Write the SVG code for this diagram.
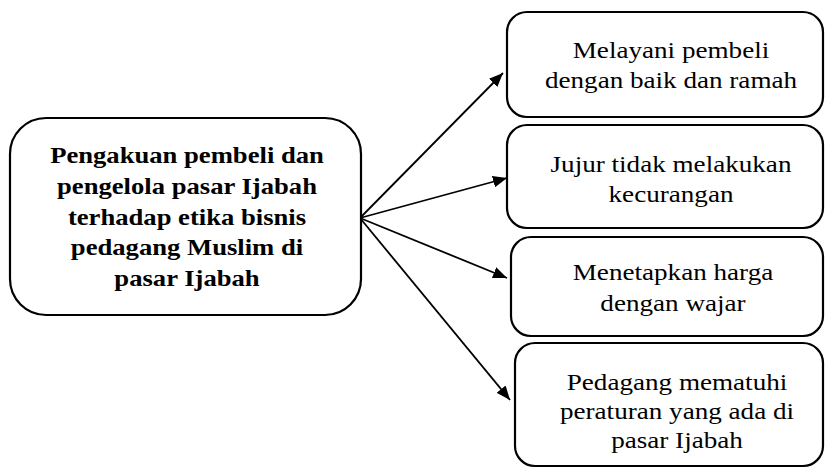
<svg xmlns="http://www.w3.org/2000/svg" width="825" height="470" viewBox="0 0 825 470">
<defs>
<marker id="ah2" viewBox="0 0 12 10" refX="12" refY="5" markerWidth="14" markerHeight="12" markerUnits="userSpaceOnUse" orient="auto">
<path d="M0,0 L12,5 L0,10 Z" fill="#000"/>
</marker>
</defs>
<style>
.box{fill:#fff;stroke:#000;stroke-width:2.2}
.c{stroke:#000;stroke-width:1.8;fill:none}
</style>
<rect width="825" height="470" fill="#fff"/>
<g id="connectors">
<line class="c" x1="360" y1="218" x2="503" y2="73" marker-end="url(#ah2)"/>
<line class="c" x1="360" y1="218" x2="507" y2="178" marker-end="url(#ah2)"/>
<line class="c" x1="360" y1="218" x2="507" y2="278" marker-end="url(#ah2)"/>
<line class="c" x1="360" y1="218" x2="510" y2="400" marker-end="url(#ah2)"/>
</g>
<g font-family="Liberation Serif, Times New Roman, serif" font-size="24" text-anchor="middle" fill="#000">
<g id="main">
<rect class="box" x="10" y="118" width="351" height="197" rx="36"/>
<g font-weight="bold" transform="translate(187 0) scale(1.11 1)">
<text x="0" y="163">Pengakuan pembeli dan</text>
<text x="0" y="194">pengelola pasar Ijabah</text>
<text x="0" y="225">terhadap etika bisnis</text>
<text x="0" y="255.5">pedagang Muslim di</text>
<text x="0" y="286">pasar Ijabah</text>
</g>
</g>
<g id="n1">
<rect class="box" x="507" y="12" width="316" height="105" rx="20"/>
<g transform="translate(671 0) scale(1.13 1)">
<text x="0" y="58">Melayani pembeli</text>
<text x="0" y="88">dengan baik dan ramah</text>
</g>
</g>
<g id="n2">
<rect class="box" x="507" y="125" width="316" height="103" rx="20"/>
<g transform="translate(671 0) scale(1.13 1)">
<text x="0" y="172">Jujur tidak melakukan</text>
<text x="0" y="202">kecurangan</text>
</g>
</g>
<g id="n3">
<rect class="box" x="511" y="237" width="312" height="99" rx="20"/>
<g transform="translate(673 0) scale(1.13 1)">
<text x="0" y="280">Menetapkan harga</text>
<text x="0" y="311">dengan wajar</text>
</g>
</g>
<g id="n4">
<rect class="box" x="515" y="343" width="308" height="123" rx="20"/>
<g transform="translate(677 0) scale(1.13 1)">
<text x="0" y="390">Pedagang mematuhi</text>
<text x="0" y="419">peraturan yang ada di</text>
<text x="0" y="448">pasar Ijabah</text>
</g>
</g>
</g>
</svg>
